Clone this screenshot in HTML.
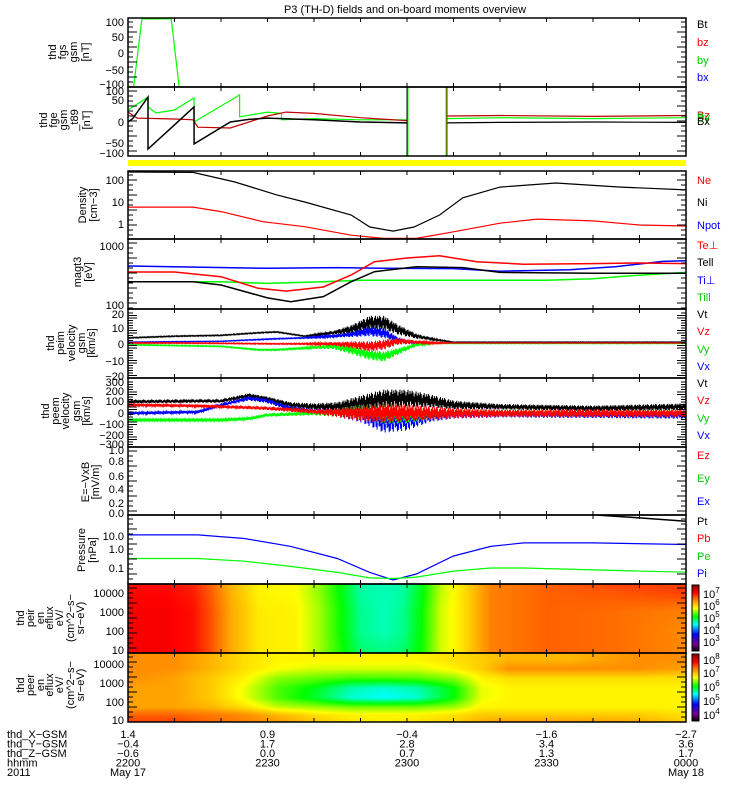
<!DOCTYPE html>
<html><head><meta charset="utf-8"><style>
html,body{margin:0;padding:0;background:#fff;}
#wrap{position:relative;width:750px;height:800px;overflow:hidden;}
canvas{position:absolute;left:0;top:0;}
svg{position:absolute;left:0;top:0;}
text{font-family:"Liberation Sans",sans-serif;font-size:11px;}
</style></head><body>
<div id="wrap">
<canvas id="cv" width="750" height="800"></canvas>
<svg id="sv" width="750" height="800" xmlns="http://www.w3.org/2000/svg"></svg>
</div>
<script>
// ---------- DATA ----------
const fgsT=[0,1.2,3,9.3,11,12];
const fgsBy=[-300,-110,110,110,-110,-300];
const fgeBlackT=[0,1,4.3,4.31,14.2,14.21,22,26,30,40,50,60];
const fgeBlack=[0,8,58,-63,35,-51,0,6,9,5,0,-2];
const fgeGreenT=[0,4.3,4.31,6,10,14.2,14.21,24,24.01,30,33,33.01,40,50,60];
const fgeGreen=[28,58,35,21,28,56,0,63,12,23,20,5,8,5,5];
const fgeRedT=[0,2,10,14,15,22,26,30,34,40,50,60];
const fgeRed=[23,9,7,5,-12,-14,0,14,23,20,10,3];
const fgePostT=[68.6,80,100,120];
const fgePostBlack=[-2,-1,0,-1];
const fgePostGreen=[8,10,8,10];
const fgePostRed=[14,15,13,15];
const denT=[0,14,23,32,38,48,52,57,61.5,67,72,80,92,106,120];
const denNi=[208,200,73,19,9,2.3,0.66,0.43,0.66,2.3,14,43,66,43,32];
const redT=[0,14,20,29,38,48,55,62,70,80,88,100,110,120];
const denNe=[5.3,5.3,3.3,1.14,0.68,0.28,0.2,0.2,0.4,0.98,1.5,1.24,0.81,0.73];
const tempT=[0,14,20,30,35,42,48,53,62,72,80,100,120];
const tell=[232,232,205,126,109,132,232,338,409,395,330,320,320];
const teT=[0,10,20,28,34,42,48,53,60,67,75,85,100,110,120];
const tePerp=[335,335,280,181,163,190,299,494,568,619,494,450,460,470,460];
const tiT=[0,30,45,55,70,80,95,105,115,120];
const tiPerp=[420,385,395,385,380,345,365,410,500,510];
const tillT=[0,20,30,42,50,60,70,90,100,108,120];
const till=[232,232,218,232,245,245,245,245,260,290,330];
const v1T=[0,10,20,28,32,38,44,48,52,55,58,62,66,70,120];
const v1Vt=[3,4,4.5,6,6.5,4,6,8,12,12,8,4,2,0.5,0.5];
const v1VtA=[0.3,0.3,0.3,0.3,0.3,0.3,1,2.5,4,4,3,1.5,0.5,0.2,0.2];
const v1Vx=[0.5,0.8,1,2,2.5,3,4,5,7,6,2,0,0,0,0];
const v1VxA=[0.2,0.2,0.2,0.3,0.3,0.3,0.8,1.5,3,3,1.5,0.5,0.2,0.2,0.2];
const v1Vz=[0,0,-0.2,-0.4,-0.5,-0.5,-0.5,-1,-2,-1,1,0.5,0,0,0];
const v1VzA=[0.3,0.3,0.3,0.3,0.3,0.4,1,2,3,3,2,1,0.5,0.2,0.2];
const v1Vy=[-1,-1.5,-2,-4,-4,-3,-2,-4,-7,-8,-5,-1,0,-0.3,-0.3];
const v1VyA=[0.3,0.3,0.3,0.4,0.4,0.5,1.5,2.5,3,3,2,1,0.4,0.2,0.2];
const v2T=[0,15,20,26,30,35,40,45,50,55,60,65,70,80,100,120];
const v2Vt=[94,100,100,150,120,64,48,50,79,124,124,100,64,48,33,48];
const v2VtA=[15,15,15,20,20,25,30,40,70,80,80,60,40,25,25,30];
const v2Vz=[64,55,48,40,33,20,3,-5,-12,-10,-10,-12,-12,-12,-12,-12];
const v2VzA=[12,12,12,15,15,20,20,40,70,90,80,60,45,35,35,35];
const v2Vx=[-12,0,64,124,100,30,3,-5,-12,-58,-58,-30,-20,-20,-25,-27];
const v2VxA=[12,12,15,20,20,20,25,40,80,130,110,60,40,30,30,35];
const v2Vy=[-73,-73,-73,-60,-27,-20,-10,-5,-3,-20,-27,-20,-5,-5,-5,-5];
const v2VyA=[10,10,10,12,15,15,20,40,70,90,80,50,30,20,20,20];
const prT=[0,15,25,35,45,52,57,62,70,78,85,100,120];
const prPi=[4.5,4.5,3,1.2,0.3,0.06,0.025,0.05,0.4,1.2,1.8,1.8,1.5];
const prPe=[0.3,0.3,0.22,0.12,0.06,0.032,0.03,0.035,0.07,0.1,0.1,0.08,0.062];
const ptT=[101,110,120];
const prPt=[44,32,22];
// spectrogram 1 (ions) : log10 eflux, columns x energy rows
const sp1T=[0,8,14,18,22,28,36,41,46,50,55,59,63,67,72,78,90,105,120];
const sp1E=[0.8,2,3,4,4.5];
const sp1Z=[
[7.2,7.2,7.1,6.8,6.4,6.05,6.0,5.7,5.3,5.0,4.95,5.0,5.3,5.8,6.1,6.6,6.75,6.7,6.55],
[7.2,7.2,7.1,6.8,6.4,6.05,6.0,5.7,5.25,4.9,4.8,4.9,5.25,5.8,6.1,6.6,6.75,6.7,6.55],
[7.2,7.2,7.1,6.8,6.4,6.05,6.0,5.7,5.25,4.9,4.8,4.9,5.25,5.8,6.1,6.6,6.75,6.7,6.6],
[7.15,7.15,7.05,6.75,6.35,6.0,5.95,5.65,5.2,4.85,4.8,4.85,5.2,5.75,6.1,6.6,6.75,6.8,6.9],
[7.1,7.1,7.0,6.7,6.3,6.0,5.95,5.65,5.2,4.85,4.8,4.85,5.2,5.75,6.1,6.6,6.75,6.9,6.9]];
const sp2T=[0,10,18,25,32,40,48,55,62,70,76,82,95,110,120];
const sp2E=[0.8,1.3,1.7,2.2,2.7,3.2,3.7,4.2,4.6];
const sp2Z=[
[7.7,7.7,7.5,7.4,7.3,7.1,6.9,6.8,6.9,7.0,7.2,7.3,7.3,7.2,7.0],
[7.5,7.5,7.4,7.3,7.1,6.9,6.8,6.8,6.8,6.9,7.0,7.0,7.0,7.0,6.9],
[7.2,7.2,7.1,6.9,6.6,6.5,6.4,6.4,6.4,6.5,6.8,6.8,6.8,6.8,6.8],
[7.2,7.2,7.0,6.7,6.3,6.0,5.6,5.5,5.6,6.1,6.7,6.8,6.8,6.8,6.8],
[7.2,7.2,7.0,6.7,6.3,6.05,5.7,5.6,5.7,6.1,6.7,6.8,6.8,6.8,6.8],
[7.3,7.2,7.0,6.8,6.45,6.35,6.25,6.25,6.3,6.45,6.8,6.9,6.9,6.9,6.9],
[7.3,7.3,7.1,6.9,6.75,6.65,6.65,6.65,6.65,6.8,7.0,7.3,7.3,7.3,7.2],
[7.3,7.3,7.1,6.9,6.8,6.8,6.8,6.8,6.8,6.9,7.0,7.1,7.1,7.3,7.3],
[7.3,7.3,7.1,6.9,6.8,6.8,6.8,6.8,6.8,6.9,7.0,7.1,7.1,7.3,7.3]];
const ephRows=['thd_X-GSM','thd_Y-GSM','thd_Z-GSM','hhmm','2011'];
const ephTimes=[0,30,60,90,120];
const ephVals=[['1.4','-0.4','-0.6','2200','May 17'],['0.9','1.7','0.0','2230',''],['-0.4','2.8','0.7','2300',''],['-1.6','3.4','1.3','2330',''],['-2.7','3.6','1.7','0000','May 18']];

// ---------- SETUP ----------
const NS='http://www.w3.org/2000/svg';
const svg=document.getElementById('sv');
const X0=128,X1=686;
function x(t){return X0+t/120*(X1-X0);}
function el(tag,attrs,parent){const e=document.createElementNS(NS,tag);for(const k in attrs)e.setAttribute(k,attrs[k]);(parent||svg).appendChild(e);return e;}
function lin(v0,y0,k){return v=>y0-(v-v0)*k;}
function logs(y1,k){return v=>y1-Math.log10(v)*k;}
const P=[
 {n:'fgs',y0:18,y1:87,s:lin(0,53,0.31)},
 {n:'fge',y0:87,y1:156,s:lin(0,122,0.43)},
 {n:'density',y0:171,y1:239,s:logs(223,22)},
 {n:'temperature',y0:239,y1:309,s:logs(243+3*61,61)},
 {n:'ion-velocity',y0:309,y1:378,s:lin(0,343,1.7)},
 {n:'electron-velocity',y0:378,y1:447,s:lin(0,412,0.11)},
 {n:'efield',y0:447,y1:515,s:lin(0,512,62)},
 {n:'pressure',y0:515,y1:584,s:logs(548,20)},
 {n:'ion-spectrogram',y0:584,y1:653,s:null},
 {n:'electron-spectrogram',y0:653,y1:722,s:null}];
P.forEach((p,i)=>{const cp=el('clipPath',{id:'c'+i});el('rect',{x:X0,y:p.y0,width:X1-X0,height:p.y1-p.y0},cp);});

function interp(T,V,t){if(t<=T[0])return V[0];for(let i=1;i<T.length;i++){if(t<=T[i]){const f=(t-T[i-1])/(T[i]-T[i-1]);return V[i-1]+f*(V[i]-V[i-1]);}}return V[V.length-1];}
function line(pi,T,V,color,name,w){const p=P[pi];const pts=T.map((t,i)=>x(t).toFixed(1)+','+p.s(V[i]).toFixed(1)).join(' ');
 const e=el('polyline',{points:pts,fill:'none',stroke:color,'stroke-width':w||1.2,'clip-path':'url(#c'+pi+')'});
 
 }
const jit=[1,-0.6,0.8,-1,0.3,-0.9,0.7,-0.4,1,-0.8,0.5,-1,0.9,-0.3,0.6,-0.7];
function noisy(pi,T,C,A,color,name){const p=P[pi];let pts=[];const N=1100;for(let k=0;k<=N;k++){const t=k/N*120;const c=interp(T,C,t),a=interp(T,A,t);pts.push(x(t).toFixed(1)+','+p.s(c+a*jit[k%16]).toFixed(1));}
 const e=el('polyline',{points:pts.join(' '),fill:'none',stroke:color,'stroke-width':1,'clip-path':'url(#c'+pi+')'});
 
 }

// ---------- SPECTROGRAMS (canvas) ----------
const cmap=[[0,[0,0,0]],[0.1,[120,0,140]],[0.25,[0,0,255]],[0.4,[0,255,255]],[0.52,[0,255,0]],[0.65,[255,255,0]],[0.79,[255,112,0]],[0.88,[255,0,0]],[1,[140,0,0]]];
function cm(f){f=Math.max(0,Math.min(1,f));for(let i=1;i<cmap.length;i++){if(f<=cmap[i][0]){const a=cmap[i-1],b=cmap[i];const u=(f-a[0])/(b[0]-a[0]);return a[1].map((c,j)=>Math.round(c+u*(b[1][j]-c)));}}return cmap[cmap.length-1][1];}
function bil(T,E,Z,t,e){let j=0;while(j<T.length-2&&t>T[j+1])j++;let i=0;while(i<E.length-2&&e>E[i+1])i++;
 const u=Math.max(0,Math.min(1,(t-T[j])/(T[j+1]-T[j]))),v=Math.max(0,Math.min(1,(e-E[i])/(E[i+1]-E[i])));
 return (Z[i][j]*(1-u)+Z[i][j+1]*u)*(1-v)+(Z[i+1][j]*(1-u)+Z[i+1][j+1]*u)*v;}
const ctx=document.getElementById('cv').getContext('2d');
function spec(pi,T,E,Z,eTop,eBot,zmin,zmax){const p=P[pi];const W=X1-X0,H=p.y1-p.y0;const img=ctx.createImageData(W,H);
 for(let yy=0;yy<H;yy++){const e=eTop-(yy/H)*(eTop-eBot);for(let xx=0;xx<W;xx++){const t=xx/W*120;const z=bil(T,E,Z,t,e);const c=cm((z-zmin)/(zmax-zmin));const o=(yy*W+xx)*4;img.data[o]=c[0];img.data[o+1]=c[1];img.data[o+2]=c[2];img.data[o+3]=255;}}
 ctx.putImageData(img,X0,p.y0);}
spec(8,sp1T,sp1E,sp1Z,4.4,0.84,2.5,7.8);
spec(9,sp2T,sp2E,sp2Z,4.5,0.9,3.5,8.5);

// ---------- TITLE ----------
const title=el('text',{x:405,y:13,'text-anchor':'middle','font-size':'12'});title.textContent='P3 (TH-D) fields and on-board moments overview';



// ---------- SERIES ----------
line(0,fgsT,fgsBy,'#00ff00','fgs-by-line');
line(1,fgeGreenT,fgeGreen,'#00ff00','fge-by-line');
line(1,fgeRedT,fgeRed,'#c00000','fge-bz-line');
line(1,fgeBlackT,fgeBlack,'#000','fge-bx-line',1.5);
line(1,fgePostT,fgePostGreen,'#00ff00','fge-by-line-post');
line(1,fgePostT,fgePostRed,'#c00000','fge-bz-line-post');
line(1,fgePostT,fgePostBlack,'#000','fge-bx-line-post');
el('line',{x1:x(60),x2:x(60),y1:87,y2:156,stroke:'#000','stroke-width':1});
el('line',{x1:x(60)+1,x2:x(60)+1,y1:87,y2:156,stroke:'#00ff00','stroke-width':1});
el('line',{x1:x(68.6),x2:x(68.6),y1:87,y2:156,stroke:'#c00000','stroke-width':1});
el('line',{x1:x(68.6)-1,x2:x(68.6)-1,y1:87,y2:156,stroke:'#00ff00','stroke-width':1});
el('rect',{x:X0,y:160,width:X1-X0,height:6,fill:'#ffff00'});
line(2,denT,denNi,'#000','density-ni-line');
line(2,redT,denNe,'#ff0000','density-ne-line');
line(3,tiT,tiPerp,'#0000ff','ti-perp-line',1.5);
line(3,tillT,till,'#00ff00','ti-par-line',1.5);
line(3,teT,tePerp,'#ff0000','te-perp-line',1.5);
line(3,tempT,tell,'#000','te-par-line',1.5);
noisy(4,v1T,v1Vt,v1VtA,'#000','ion-vt-line');
noisy(4,v1T,v1Vx,v1VxA,'#0000ff','ion-vx-line');
noisy(4,v1T,v1Vy,v1VyA,'#00ff00','ion-vy-line');
noisy(4,v1T,v1Vz,v1VzA,'#ff0000','ion-vz-line');
noisy(5,v2T,v2Vt,v2VtA,'#000','electron-vt-line');
noisy(5,v2T,v2Vx,v2VxA,'#0000ff','electron-vx-line');
noisy(5,v2T,v2Vy,v2VyA,'#00ff00','electron-vy-line');
noisy(5,v2T,v2Vz,v2VzA,'#ff0000','electron-vz-line');
line(7,prT,prPi,'#0000ff','pressure-pi-line');
line(7,prT,prPe,'#00ff00','pressure-pe-line');
line(7,ptT,prPt,'#000','pressure-pt-line',1.5);

// ---------- FRAMES & TICKS ----------
P.forEach((p,i)=>{
 const r=el('rect',{x:X0,y:p.y0,width:X1-X0,height:p.y1-p.y0,fill:'none',stroke:'#000','stroke-width':1.5});
 
 
 for(let t=0;t<=120;t+=10){el('line',{x1:x(t),x2:x(t),y1:p.y0,y2:p.y0+4,stroke:'#000'});el('line',{x1:x(t),x2:x(t),y1:p.y1,y2:p.y1-4,stroke:'#000'});}
 for(let yy=p.y0+4;yy<p.y1;yy+=(i==4||i==5?2.5:5)){el('line',{x1:X1,x2:X1-(yy%15<5?9:5),y1:yy,y2:yy,stroke:'#000'});el('line',{x1:X0,x2:X0+(yy%15<5?9:5),y1:yy,y2:yy,stroke:'#000'});}
});
// y tick labels
const yl=[[['100',22],['50',37],['0',53],['-50',70],['-100',84]],[['100',91],['50',100],['0',122],['-50',143],['-100',153]],[['100',180],['10',202],['1',224]],[['1000',246],['100',305]],[['20',314],['10',328],['0',344],['-10',361],['-20',376]],[['300',382],['200',391],['100',401],['0',413],['-100',424],['-200',435],['-300',444]],[['1.0',450],['0.8',461],['0.6',476],['0.4',489],['0.2',503],['0.0',513]],[['10.0',536],['1.0',549],['0.1',568]],[['10000',593],['1000',612],['100',631],['10',650]],[['10000',664],['1000',683],['100',702],['10',720]]];
yl.forEach((arr,i)=>arr.forEach(([s,y])=>{const e=el('text',{x:124,y:y+4,'text-anchor':'end'});e.textContent=s.replace('-','\u2212');
 
 }));
// y axis titles
const yt=[[52,[['thd',52],['fgs',62],['gsm',73],['[nT]',85]]],[120,[['thd',43],['fge',53],['gsm',63],['_t89',74],['[nT]',86]]],[205,[['Density',82],['[cm\u22123]',93]]],[272,[['magt3',77],['[eV]',88]]],[343,[['thd',50],['peim',60],['velocity',71],['gsm',81],['[km/s]',91]]],[411,[['thd',45],['peem',55],['velocity',65],['gsm',76],['[km/s]',86]]],[482,[['E=\u2212VxB',85],['[mV/m]',95]]],[550,[['Pressure',81],['[nPa]',92]]],[618,[['thd',20],['peir',30],['en',40],['eflux',49],['eV/',59],['(cm^2\u2212s\u2212',70],['sr\u2212eV)',80]]],[685,[['thd',20],['peer',30],['en',40],['eflux',49],['eV/',59],['(cm^2\u2212s\u2212',70],['sr\u2212eV)',80]]]];
yt.forEach(([cy,ls],i)=>ls.forEach(([s,xx])=>{const e=el('text',{x:xx+4,y:cy,'text-anchor':'middle',transform:'rotate(-90 '+(xx+4)+' '+cy+')'});e.textContent=s;
 
 }));
// legends
const lg=[[['Bt','#000',24],['bz','#f00',42],['by','#0c0',60],['bx','#00f',77]],[['Bz','#c00000',115],['By','#0c0',117],['Bx','#000',121]],[['Ne','#f00',180],['Ni','#000',202],['Npot','#00f',225]],[['Te\u22a5','#f00',245],['Tell','#000',262],['Ti\u22a5','#00f',280],['Till','#0c0',297]],[['Vt','#000',314],['Vz','#f00',331],['Vy','#0c0',349],['Vx','#00f',366]],[['Vt','#000',383],['Vz','#f00',400],['Vy','#0c0',418],['Vx','#00f',435]],[['Ez','#f00',455],['Ey','#0c0',478],['Ex','#00f',501]],[['Pt','#000',521],['Pb','#f00',538],['Pe','#0c0',556],['Pi','#00f',573]]];
lg.forEach((arr,i)=>arr.forEach(([s,c,y])=>{const e=el('text',{x:697,y:y+4,fill:c});e.textContent=s;
 
 }));
// colorbars
const defs=el('defs',{});
const g=el('linearGradient',{id:'rb',x1:0,y1:1,x2:0,y2:0},defs);
cmap.forEach(([f,c])=>el('stop',{offset:f,'stop-color':'rgb('+c.join(',')+')'},g));
[[584,652,[['7',594],['6',606],['5',618],['4',630],['3',642]]],[653,722,[['8',660],['7',673],['6',687],['5',701],['4',715]]]].forEach(([a,b,labs],k)=>{
 const r=el('rect',{x:692,y:a+1,width:7,height:b-a-2,fill:'url(#rb)',stroke:'#000','stroke-width':1});
 
 
 labs.forEach(([p,y])=>{const e=el('text',{x:703,y:y+4});e.textContent='10';const s=el('tspan',{dy:-5,'font-size':'8'},e);s.textContent=p;
  
  });
});
// ephemeris / time axis
ephRows.forEach((s,i)=>{const e=el('text',{x:7,y:738+i*9.5});e.textContent=s.replace(/-/g,'\u2212');
 
 });
ephTimes.forEach((t,j)=>ephVals[j].forEach((s,i)=>{if(!s)return;const e=el('text',{x:x(t),y:738+i*9.5,'text-anchor':'middle'});e.textContent=s.replace('-','\u2212');
 
 }));
</script>
</body></html>
